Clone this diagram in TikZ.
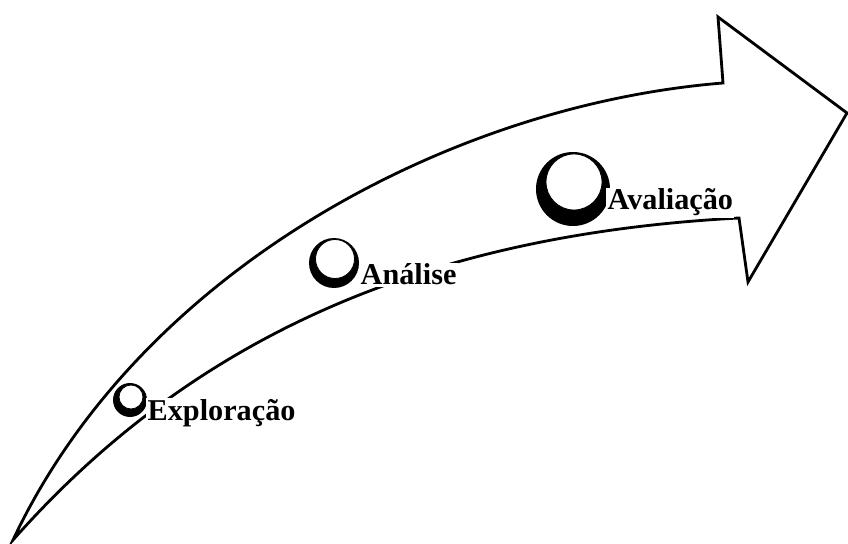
\documentclass[tikz,border=0pt]{standalone}
\usepackage{fontspec}
\setmainfont{Liberation Serif}
\usepackage{tikz}
\usetikzlibrary{positioning}

\tikzset{
  arrowline/.style={draw=black, fill=white, line width=2pt, line join=miter},
  ball/.style={circle, draw=black, fill=white, line width=0.6pt, inner sep=0pt},
  phase/.style={font=\fontsize{21.5}{24}\selectfont\bfseries, fill=white, inner sep=1pt, anchor=base west}
}

\begin{document}
\begin{tikzpicture}[x=0.025cm, y=-0.025cm]
\useasboundingbox (0,0) rectangle (848,544);

% Curved arrow
\draw[arrowline] (13,540) .. controls (140,270) and (450,105) .. (723,83)
  -- (718,17) -- (847,113) -- (748,282) -- (739,218)
  .. controls (420,235) and (190,340) .. cycle;

% Shadows of the balls
\fill[black] (130,400) circle (17);
\fill[black] (334,263) circle (25);
\fill[black] (573,189) circle (37);

% Balls
\node[ball, minimum size=24*0.025cm] (explo) at (131,397) {};
\node[ball, minimum size=39*0.025cm] (anal) at (335,259) {};
\node[ball, minimum size=56*0.025cm] (aval) at (574,182) {};

% Phases
\node[phase] (texplo) at (146,420) {Exploração};
\node[phase] (tanal) at (359,285) {Análise};
\node[phase] (taval) at (606,210) {Avaliação};
\end{tikzpicture}
\end{document}
